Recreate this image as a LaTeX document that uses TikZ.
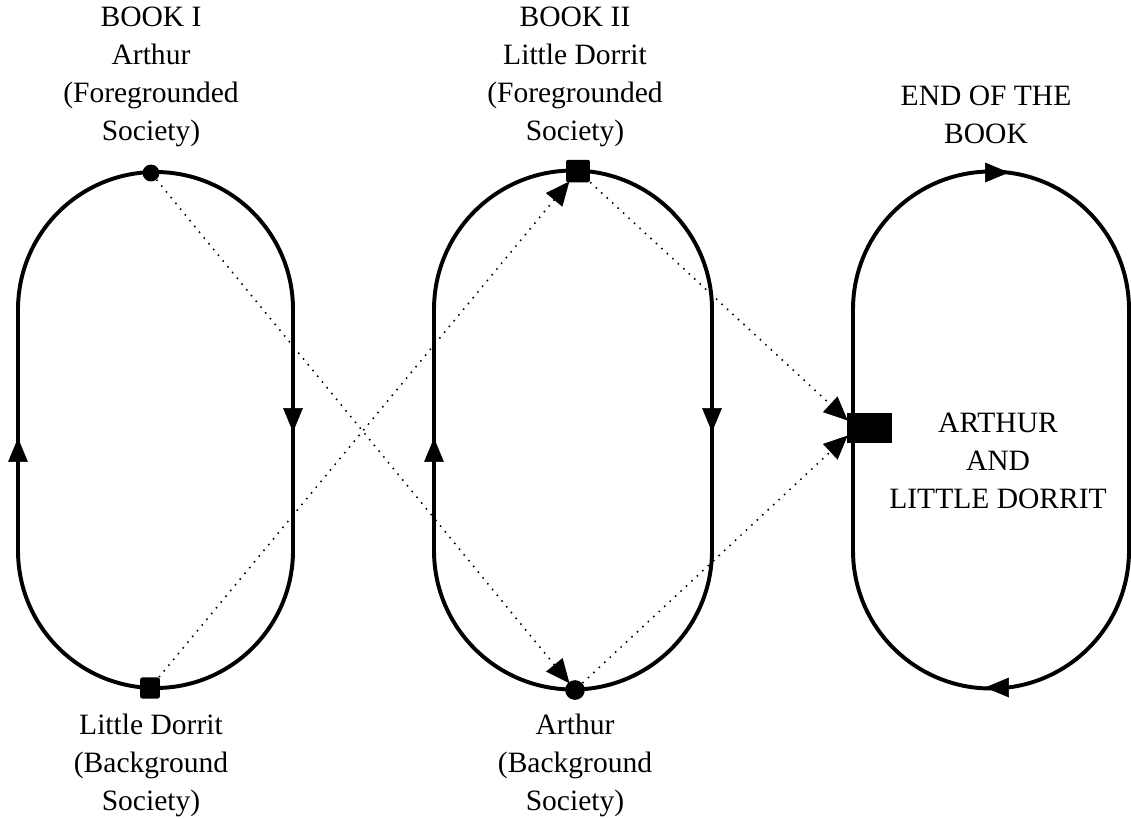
\documentclass[tikz,border=0pt]{standalone}
\usepackage{fontspec}
\setmainfont{Liberation Serif}
\usetikzlibrary{arrows.meta}
\begin{document}
\begin{tikzpicture}[x=0.025cm,y=-0.025cm,
  track/.style={line width=2.8pt},
  flow/.style={-{Triangle[length=17pt,width=14pt]}},
  link/.style={line width=1.1pt,dash pattern=on 1.1pt off 4.2pt,
    -{Triangle[length=17pt,width=15pt]}, shorten >=-1pt},
  dotmark/.style={circle,fill=black,inner sep=0pt},
  boxmark/.style={rectangle,fill=black,inner sep=0pt,rounded corners=1.5pt},
  label/.style={align=center,font=\fontsize{21}{27}\selectfont}]
\useasboundingbox (0,0) rectangle (1131,818);

% three stadium-shaped tracks
\draw[track] (18,309.5) arc[start angle=180,end angle=360,radius=137.5]
  -- (293,550.5) arc[start angle=0,end angle=180,radius=137.5] -- cycle;
\draw[track] (434,309.5) arc[start angle=180,end angle=360,radius=139]
  -- (712,550.5) arc[start angle=0,end angle=180,radius=139] -- cycle;
\draw[track] (853,309.5) arc[start angle=180,end angle=360,radius=138]
  -- (1129,550.5) arc[start angle=0,end angle=180,radius=138] -- cycle;

% direction of travel on each track
\draw[flow] (293,404) -- (293,432);
\draw[flow] (18,466) -- (18,438);
\draw[flow] (712,404) -- (712,432);
\draw[flow] (434,466) -- (434,438);
\draw[flow] (978,172.5) -- (1009,172.5);
\draw[flow] (1016,687.5) -- (985,687.5);

% position markers
\node[dotmark,minimum size=12pt] (s1top) at (151,173) {};
\node[boxmark,minimum width=14pt,minimum height=15pt] (s1bot) at (150,688) {};
\node[boxmark,minimum width=17pt,minimum height=16pt] (s2top) at (578,171) {};
\node[dotmark,minimum size=14pt] (s2bot) at (575,690) {};
\node[rectangle,fill=black,inner sep=0pt,minimum width=32pt,minimum height=21pt] (s3mark) at (869.5,428) {};

% crossings between the tracks
\draw[link] (s1top) -- (s2bot);
\draw[link] (s1bot) -- (s2top);
\draw[link] (s2top) -- ([yshift=6pt]s3mark.west);
\draw[link] (s2bot) -- ([yshift=-6pt]s3mark.west);

% labels
\node[label] (t1) at (151,77) {BOOK I\\Arthur\\(Foregrounded\\Society)};
\node[label] (t2) at (575,77) {BOOK II\\Little Dorrit\\(Foregrounded\\Society)};
\node[label] (t3) at (986,115) {END OF THE\\BOOK};
\node[label] (b1) at (151,765) {Little Dorrit\\(Background\\Society)};
\node[label] (b2) at (575,765) {Arthur\\(Background\\Society)};
\node[label] (c3) at (998,461) {ARTHUR\\AND\\LITTLE DORRIT};
\end{tikzpicture}
\end{document}
